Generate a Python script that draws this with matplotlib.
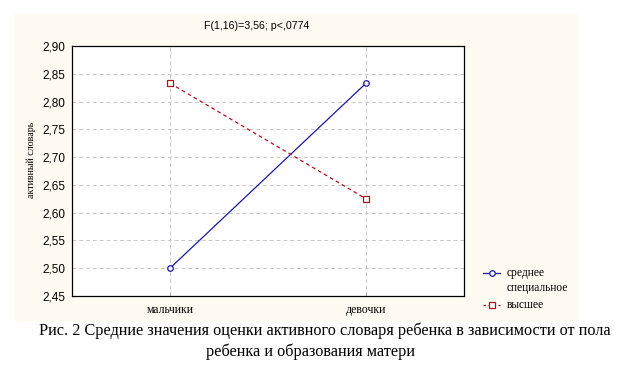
import matplotlib
matplotlib.use("Agg")
import matplotlib.pyplot as plt
from matplotlib.lines import Line2D

categories = ["мальчики", "девочки"]
series_names = ["среднее\nспециальное", "высшее"]
vals_mid = [2.50, 2.833]
vals_high = [2.833, 2.625]
yticks = [2.45, 2.50, 2.55, 2.60, 2.65, 2.70, 2.75, 2.80, 2.85, 2.90]
title = "F(1,16)=3,56; p<,0774"
ylabel = "активный словарь"
caption1 = "Рис. 2 Средние значения оценки активного словаря ребенка в зависимости от пола"
caption2 = "ребенка и образования матери"

W, H = 621, 371
fig = plt.figure(figsize=(6.21, 3.71), dpi=100)
fig.patch.set_facecolor("white")

bg = fig.add_axes([0.0225, 0.1348, 0.908, 0.8275], zorder=0)
bg.set_facecolor("#fffbf2")
bg.set_xticks([])
bg.set_yticks([])
for s in bg.spines.values():
    s.set_visible(False)

ax = fig.add_axes([0.1159, 0.2022, 0.6313, 0.6738], zorder=1)
ax.set_facecolor("white")
x = list(range(len(categories)))
styles = [
    dict(color="#1a1aa0", ls="-", marker="o"),
    dict(color="#b01020", ls=(0, (3, 2.5)), marker="s"),
]
for vals, st, name in zip([vals_mid, vals_high], styles, series_names):
    ax.plot(x, vals, color=st["color"], lw=0.9, ls=st["ls"], marker=st["marker"], ms=4,
            mfc="white", mec=st["color"], mew=0.9, label=name, zorder=3)

ax.set_xlim(-0.5, 1.5)
ax.set_ylim(2.45, 2.90)
ax.set_yticks(yticks)
ax.set_yticklabels([f"{v:.2f}".replace(".", ",") for v in yticks],
                   family="Liberation Sans", fontsize=8.5)
ax.set_xticks(x)
ax.set_xticklabels(categories, family="Liberation Serif", fontsize=8.5)
ax.tick_params(axis="x", length=3, direction="in", color="#b0b0b0", pad=6)
ax.tick_params(axis="y", length=0, pad=5)
ax.grid(True, color="#c8c8c8", ls=(0, (4, 3)), lw=0.7)
for s in ax.spines.values():
    s.set_linewidth(0.9)
    s.set_color("black")

fig.text(257 / W, 1 - 26 / H, title, ha="center", va="center",
         family="Liberation Sans", fontsize=7.7)
ax.set_ylabel(ylabel, family="Liberation Serif", fontsize=7.2)
ax.yaxis.set_label_coords(-0.093, (296 - 160) / 250)

# legend (drawn manually so the first handle aligns with the first text line)
leg_y = [273, 305]
for st, name, yy in zip(styles, series_names, leg_y):
    ls = "-" if st["ls"] == "-" else (0, (2, 2))
    fig.add_artist(Line2D([483 / W, 500 / W], [1 - yy / H] * 2, color=st["color"], lw=0.9,
                          ls=ls, transform=fig.transFigure, zorder=3))
    fig.add_artist(Line2D([491.5 / W], [1 - yy / H], color=st["color"], marker=st["marker"],
                          ms=4, mfc="white", mec=st["color"], mew=0.9, ls="none",
                          transform=fig.transFigure, zorder=4))
    fig.text(507 / W, 1 - (yy - 6) / H, name, ha="left", va="top", family="Liberation Serif",
             fontsize=8.3, linespacing=1.3, zorder=3)

fig.text(325 / W, 1 - 331 / H, caption1, ha="center", va="center", family="Liberation Serif",
         fontsize=11.7)
fig.text(310 / W, 1 - 352 / H, caption2, ha="center", va="center", family="Liberation Serif",
         fontsize=11.7)

fig.savefig("out.png", dpi=100)
